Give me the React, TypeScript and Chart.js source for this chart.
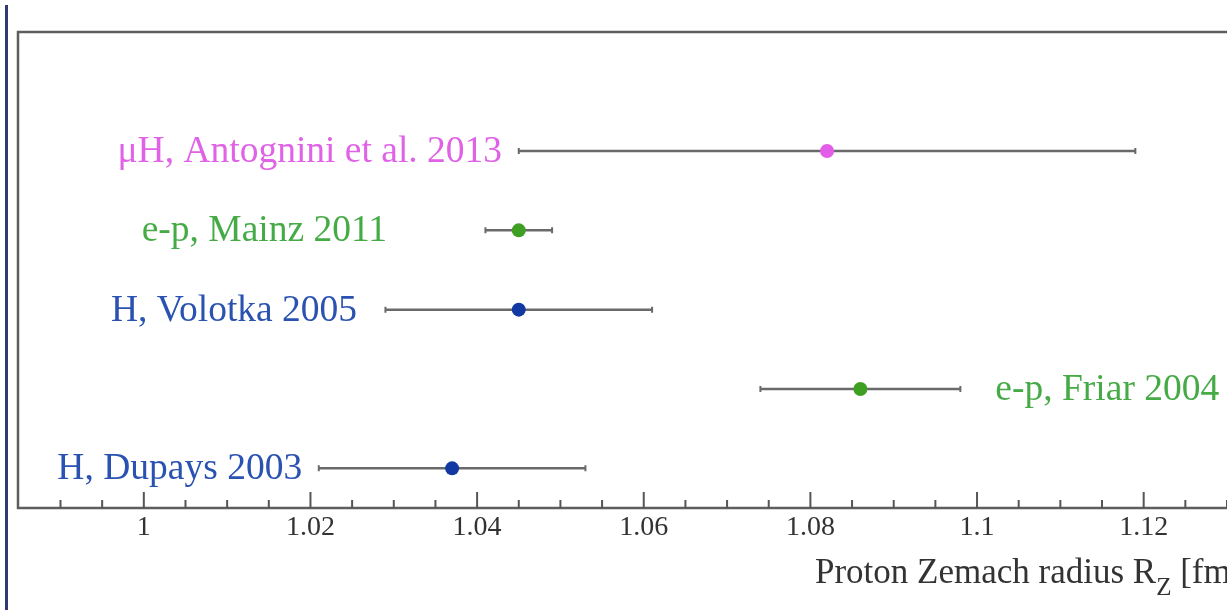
import React, { useEffect, useRef } from "react";
import { Chart, registerables } from "chart.js";

Chart.register(...registerables);

// ---- data ----
const measurements = [
  "μH, Antognini et al. 2013",
  "e-p, Mainz 2011",
  "H, Volotka 2005",
  "e-p, Friar 2004",
  "H, Dupays 2003",
];
const rowIndex = [5, 4, 3, 2, 1];
const zemachRadius = [1.082, 1.045, 1.045, 1.086, 1.037];
const uncertainty = [0.037, 0.004, 0.016, 0.012, 0.016];
const xTickValues = [1, 1.02, 1.04, 1.06, 1.08, 1.1, 1.12];
const xTickLabels = ["1", "1.02", "1.04", "1.06", "1.08", "1.1", "1.12"];

// label anchors (axis units) and which side of the anchor the text goes
const labelAnchor = [1.0430, 1.0292, 1.0256, 1.1022, 1.0190];
const labelSide = ["left", "left", "left", "right", "left"];

const PINK = "#e35de8";
const GREEN = "#3f9f22";
const BLUE = "#1238a2";
const pointColors = [PINK, GREEN, BLUE, GREEN, BLUE];
const labelColors = ["#e062e6", "#46ab46", "#2a52b0", "#46ab46", "#2a52b0"];

const X_MIN = 0.9849;
const X_MAX = 1.13;
const SERIF = '"Liberation Serif", "Times New Roman", serif';

const rootStylePlugin = {
  id: "rootStyle",
  beforeDatasetsDraw(chart: any) {
    const { ctx, chartArea, scales } = chart;
    const xs = scales.x;
    const ys = scales.y;
    ctx.save();
    // frame
    ctx.strokeStyle = "#5e5e5e";
    ctx.lineWidth = 2.5;
    ctx.beginPath();
    ctx.moveTo(chartArea.right + 2, chartArea.top);
    ctx.lineTo(chartArea.left, chartArea.top);
    ctx.lineTo(chartArea.left, chartArea.bottom);
    ctx.lineTo(chartArea.right + 2, chartArea.bottom);
    ctx.stroke();
    // ticks (inward)
    ctx.lineWidth = 2;
    ctx.strokeStyle = "#555";
    const step = 0.005;
    const kStart = Math.ceil(X_MIN / step - 1e-9);
    const kEnd = Math.floor(X_MAX / step + 1e-9);
    for (let k = kStart; k <= kEnd; k++) {
      const v = k * step;
      const isMajor = Math.abs(v / 0.02 - Math.round(v / 0.02)) < 1e-6;
      const px = xs.getPixelForValue(v);
      if (px <= chartArea.left + 1) continue;
      ctx.beginPath();
      ctx.moveTo(px, chartArea.bottom);
      ctx.lineTo(px, chartArea.bottom - (isMajor ? 16 : 8));
      ctx.stroke();
    }
    // error bars
    ctx.strokeStyle = "#6a6a6a";
    for (let i = 0; i < zemachRadius.length; i++) {
      const y = ys.getPixelForValue(rowIndex[i]);
      const x0 = xs.getPixelForValue(zemachRadius[i] - uncertainty[i]);
      const x1 = xs.getPixelForValue(zemachRadius[i] + uncertainty[i]);
      ctx.lineWidth = 2.5;
      ctx.beginPath();
      ctx.moveTo(x0, y);
      ctx.lineTo(x1, y);
      ctx.stroke();
      ctx.lineWidth = 2;
      ctx.beginPath();
      ctx.moveTo(x0, y - 3);
      ctx.lineTo(x0, y + 3);
      ctx.moveTo(x1, y - 3);
      ctx.lineTo(x1, y + 3);
      ctx.stroke();
    }
    ctx.restore();
  },
  afterDraw(chart: any) {
    const { ctx, scales } = chart;
    const xs = scales.x;
    const ys = scales.y;
    ctx.save();
    // measurement labels
    ctx.font = `37.5px ${SERIF}`;
    ctx.textBaseline = "alphabetic";
    for (let i = 0; i < measurements.length; i++) {
      const y = ys.getPixelForValue(rowIndex[i]) + 11;
      const x = xs.getPixelForValue(labelAnchor[i]);
      ctx.fillStyle = labelColors[i];
      ctx.textAlign = labelSide[i] === "left" ? "right" : "left";
      ctx.fillText(measurements[i], x, y);
    }
    // axis title
    ctx.fillStyle = "#333";
    ctx.textAlign = "left";
    let tx = 815;
    const base = 583;
    ctx.font = `35px ${SERIF}`;
    const main = "Proton Zemach radius R";
    ctx.fillText(main, tx, base);
    tx += ctx.measureText(main).width;
    ctx.font = `25px ${SERIF}`;
    ctx.fillText("Z", tx, base + 12);
    tx += ctx.measureText("Z").width;
    ctx.font = `35px ${SERIF}`;
    ctx.fillText(" [fm]", tx, base);
    // left page border line
    ctx.fillStyle = "#323872";
    ctx.fillRect(5, 5, 3, 605);
    ctx.restore();
  },
};

export default function App() {
  const canvasRef = useRef<HTMLCanvasElement | null>(null);

  useEffect(() => {
    const canvas = canvasRef.current;
    if (!canvas) return;
    const chart = new Chart(canvas, {
      type: "scatter",
      data: {
        datasets: [
          {
            data: zemachRadius.map((v, i) => ({ x: v, y: rowIndex[i] })),
            pointBackgroundColor: pointColors,
            pointBorderColor: pointColors,
            pointRadius: 7,
            pointBorderWidth: 0,
            showLine: false,
          },
        ],
      },
      options: {
        animation: false,
        responsive: false,
        maintainAspectRatio: false,
        layout: { autoPadding: false, padding: { left: 18, top: 32, right: 0, bottom: 0 } },
        plugins: {
          legend: { display: false },
          tooltip: { enabled: false },
          title: { display: false },
        },
        scales: {
          x: {
            type: "linear",
            min: X_MIN,
            max: X_MAX,
            position: "bottom",
            afterBuildTicks: (scale: any) => {
              scale.ticks = xTickValues.map((v) => ({ value: v }));
            },
            afterFit: (scale: any) => {
              scale.height = 102;
            },
            ticks: {
              autoSkip: false,
              maxRotation: 0,
              padding: 3,
              color: "#333",
              font: { family: SERIF, size: 28 },
              callback: (value: any) => {
                const idx = xTickValues.findIndex((t) => Math.abs(t - Number(value)) < 1e-9);
                return idx >= 0 ? xTickLabels[idx] : "";
              },
            },
            grid: { display: false, drawTicks: false },
            border: { display: false },
            title: { display: false },
          },
          y: {
            type: "linear",
            min: 0.5,
            max: 6.5,
            display: false,
          },
        },
      },
      plugins: [rootStylePlugin],
    });
    return () => chart.destroy();
  }, []);

  return (
    <div
      style={{
        position: "fixed",
        left: 0,
        top: 0,
        width: 1227,
        height: 610,
        background: "#fff",
      }}
    >
      <canvas ref={canvasRef} width={1227} height={610} style={{ display: "block" }} />
    </div>
  );
}
